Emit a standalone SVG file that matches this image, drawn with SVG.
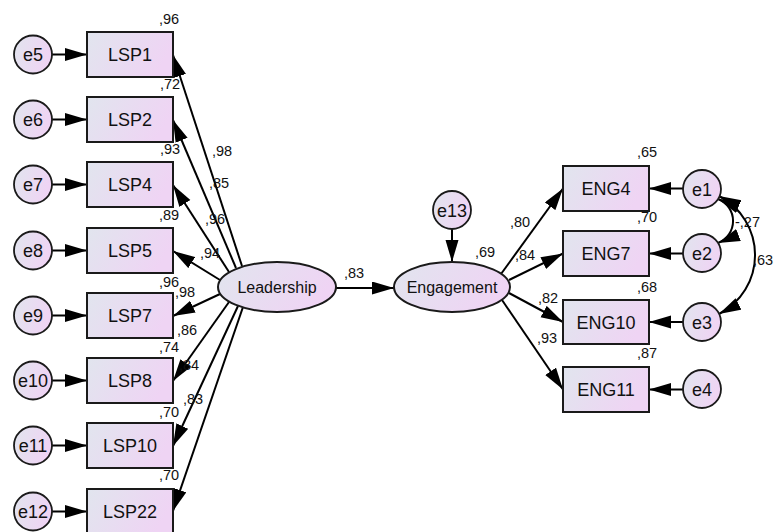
<svg xmlns="http://www.w3.org/2000/svg" width="774" height="532" viewBox="0 0 774 532">
<defs>
<linearGradient id="fill" x1="0" y1="0" x2="1" y2="0.3">
<stop offset="0" stop-color="#E1E5EE"/>
<stop offset="1" stop-color="#EFD4F4"/>
</linearGradient>
<marker id="arr" markerUnits="userSpaceOnUse" markerWidth="24" markerHeight="14" refX="22" refY="6.5" orient="auto-start-reverse" viewBox="0 0 24 14">
<path d="M0,0 L22,6.5 L0,13 Z" fill="#000"/>
</marker>
<style>
.box{fill:url(#fill);stroke:#1a1a1a;stroke-width:2}
.lat{fill:url(#fill);stroke:#1a1a1a;stroke-width:2}
.err{fill:url(#fill);stroke:#1a1a1a;stroke-width:1.8}
.nl{font-family:"Liberation Sans",Arial,sans-serif;font-size:18px;fill:#111;text-anchor:middle}
.ll{font-family:"Liberation Sans",Arial,sans-serif;font-size:16px;fill:#111;text-anchor:middle}
.v{font-family:"Liberation Sans",Arial,sans-serif;font-size:14.5px;fill:#111}
.c{fill:none;stroke:#000;stroke-width:2;marker-end:url(#arr)}
.cv{fill:none;stroke:#000;stroke-width:2;marker-end:url(#arr);marker-start:url(#arr)}
</style>
</defs>
<g id="connectors">
<path class="c" d="M52,54.5 L87,54.5"/>
<path class="c" d="M52,119.5 L87,119.5"/>
<path class="c" d="M52,184.5 L87,184.5"/>
<path class="c" d="M52,250.5 L87,250.5"/>
<path class="c" d="M52,315.5 L87,315.5"/>
<path class="c" d="M52,380.5 L87,380.5"/>
<path class="c" d="M52,445.5 L87,445.5"/>
<path class="c" d="M52,511.5 L87,511.5"/>
<path class="c" d="M242,266 L173,55"/>
<path class="c" d="M236,268 L173,120"/>
<path class="c" d="M229,272 L173,185"/>
<path class="c" d="M220,280 L173,251"/>
<path class="c" d="M220,294 L173,316"/>
<path class="c" d="M229,302 L173,381"/>
<path class="c" d="M238,306 L173,446"/>
<path class="c" d="M243,307 L173,511"/>
<path class="c" d="M336,288 L394,288"/>
<path class="c" d="M452,229 L452,262"/>
<path class="c" d="M501,274 L563,188.5"/>
<path class="c" d="M509,280 L563,253.5"/>
<path class="c" d="M509,293 L563,322"/>
<path class="c" d="M502,300 L563,389.5"/>
<path class="c" d="M683,188.5 L649,188.5"/>
<path class="c" d="M683,253.5 L649,253.5"/>
<path class="c" d="M683,322 L649,322"/>
<path class="c" d="M683,389.5 L649,389.5"/>
<path class="cv" d="M718,199 A23.6,23.6 0 0 1 718,243"/>
<path class="cv" d="M719,196 A66.3,66.3 0 0 1 719,314"/>
</g>
<g id="e5"><circle class="err" cx="33" cy="54.5" r="19"/><text class="nl" x="33" y="61">e5</text></g>
<g id="e6"><circle class="err" cx="33" cy="119.5" r="19"/><text class="nl" x="33" y="126">e6</text></g>
<g id="e7"><circle class="err" cx="33" cy="184.5" r="19"/><text class="nl" x="33" y="191">e7</text></g>
<g id="e8"><circle class="err" cx="33" cy="250.5" r="19"/><text class="nl" x="33" y="257">e8</text></g>
<g id="e9"><circle class="err" cx="33" cy="315.5" r="19"/><text class="nl" x="33" y="322">e9</text></g>
<g id="e10"><circle class="err" cx="33" cy="380.5" r="19"/><text class="nl" x="33" y="387">e10</text></g>
<g id="e11"><circle class="err" cx="33" cy="445.5" r="19"/><text class="nl" x="33" y="452">e11</text></g>
<g id="e12"><circle class="err" cx="33" cy="511.5" r="19"/><text class="nl" x="33" y="518">e12</text></g>
<g id="LSP1"><rect class="box" x="87" y="32" width="86" height="45"/><text class="nl" x="130" y="61">LSP1</text><text class="v" x="159" y="24">,96</text></g>
<g id="LSP2"><rect class="box" x="87" y="97" width="86" height="45"/><text class="nl" x="130" y="126">LSP2</text><text class="v" x="160" y="89">,72</text></g>
<g id="LSP4"><rect class="box" x="87" y="162" width="86" height="45"/><text class="nl" x="130" y="191">LSP4</text><text class="v" x="160" y="154">,93</text></g>
<g id="LSP5"><rect class="box" x="87" y="228" width="86" height="45"/><text class="nl" x="130" y="257">LSP5</text><text class="v" x="159" y="220">,89</text></g>
<g id="LSP7"><rect class="box" x="87" y="293" width="86" height="45"/><text class="nl" x="130" y="322">LSP7</text><text class="v" x="159" y="287">,96</text></g>
<g id="LSP8"><rect class="box" x="87" y="358" width="86" height="45"/><text class="nl" x="130" y="387">LSP8</text><text class="v" x="159" y="352">,74</text></g>
<g id="LSP10"><rect class="box" x="87" y="423" width="86" height="45"/><text class="nl" x="130" y="452">LSP10</text><text class="v" x="159" y="417">,70</text></g>
<g id="LSP22"><rect class="box" x="87" y="489" width="86" height="45"/><text class="nl" x="130" y="518">LSP22</text><text class="v" x="159" y="480">,70</text></g>
<g id="loadings">
<text class="v" x="212" y="156">,98</text>
<text class="v" x="209" y="188">,85</text>
<text class="v" x="205" y="224">,96</text>
<text class="v" x="200" y="258">,94</text>
<text class="v" x="175" y="297">,98</text>
<text class="v" x="177" y="335">,86</text>
<text class="v" x="179" y="370">,84</text>
<text class="v" x="183" y="404">,83</text>
<text class="v" x="344" y="278">,83</text>
<text class="v" x="510" y="227">,80</text>
<text class="v" x="515" y="260">,84</text>
<text class="v" x="538" y="303">,82</text>
<text class="v" x="537" y="343">,93</text>
<text class="v" x="735" y="227">-,27</text>
<text class="v" x="753" y="265">,63</text>
</g>
<g id="Leadership"><ellipse class="lat" cx="277" cy="287" rx="59" ry="25"/><text class="ll" x="277" y="293">Leadership</text></g>
<g id="Engagement"><ellipse class="lat" cx="452" cy="287" rx="58" ry="25"/><text class="ll" x="452" y="293">Engagement</text><text class="v" x="475" y="257">,69</text></g>
<g id="e13"><circle class="err" cx="452" cy="210" r="19"/><text class="nl" x="452" y="216.5">e13</text></g>
<g id="ENG4"><rect class="box" x="563" y="166" width="86" height="45"/><text class="nl" x="606" y="195">ENG4</text><text class="v" x="637" y="157">,65</text></g>
<g id="ENG7"><rect class="box" x="563" y="231" width="86" height="45"/><text class="nl" x="606" y="260">ENG7</text><text class="v" x="637" y="222">,70</text></g>
<g id="ENG10"><rect class="box" x="563" y="300" width="86" height="44"/><text class="nl" x="606" y="328.5">ENG10</text><text class="v" x="637" y="292">,68</text></g>
<g id="ENG11"><rect class="box" x="563" y="367" width="86" height="45"/><text class="nl" x="606" y="396">ENG11</text><text class="v" x="637" y="358">,87</text></g>
<g id="e1"><circle class="err" cx="702" cy="189" r="19"/><text class="nl" x="702" y="195.5">e1</text></g>
<g id="e2"><circle class="err" cx="702" cy="253" r="19"/><text class="nl" x="702" y="259.5">e2</text></g>
<g id="e3"><circle class="err" cx="702" cy="322" r="19"/><text class="nl" x="702" y="328.5">e3</text></g>
<g id="e4"><circle class="err" cx="702" cy="389" r="19"/><text class="nl" x="702" y="395.5">e4</text></g>
</svg>
